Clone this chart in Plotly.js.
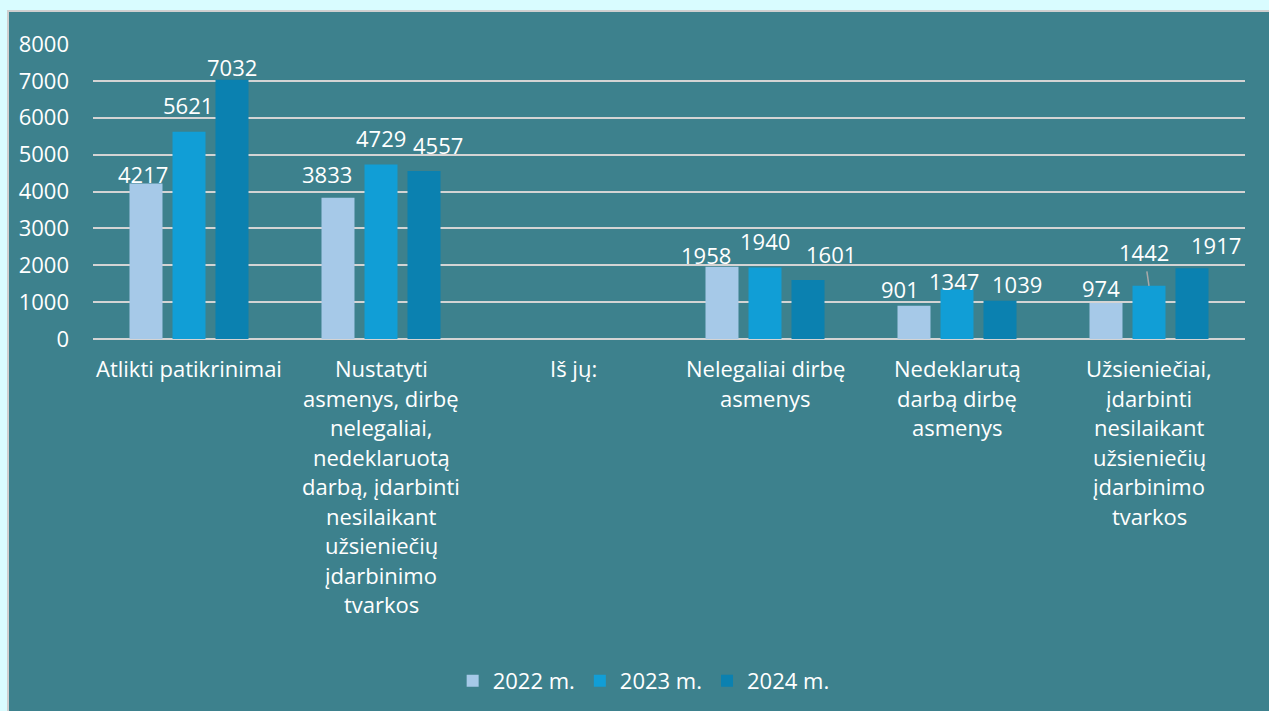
<!DOCTYPE html>
<html>
<head>
<meta charset="utf-8">
<script src="https://cdn.plot.ly/plotly-3.0.1.min.js"></script>
<style>
  html, body { margin: 0; padding: 0; background: #d9fcff; overflow: hidden; width: 1269px; height: 711px; }
  #frame { position: absolute; left: 7px; top: 10px; width: 1262px; height: 701px; border-left: 2px solid #cfcfcf; border-top: 2px solid #cfcfcf; box-sizing: border-box; background: #3d818d; }
  #chart { width: 1260px; height: 699px; }
</style>
</head>
<body>
<div id="frame"><div id="chart"></div></div>
<script>
// ---- data ----
const categories = [
  "Atlikti patikrinimai",
  "Nustatyti<br>asmenys, dirbę<br>nelegaliai,<br>nedeklaruotą<br>darbą, įdarbinti<br>nesilaikant<br>užsieniečių<br>įdarbinimo<br>tvarkos",
  "Iš jų:",
  "Nelegaliai dirbę<br>asmenys",
  "Nedeklarutą<br>darbą dirbę<br>asmenys",
  "Užsieniečiai,<br>įdarbinti<br>nesilaikant<br>užsieniečių<br>įdarbinimo<br>tvarkos"
];
const seriesNames = ["2022 m.", "2023 m.", "2024 m."];
const values2022 = [4217, 3833, null, 1958, 901, 974];
const values2023 = [5621, 4729, null, 1940, 1347, 1442];
const values2024 = [7032, 4557, null, 1601, 1039, 1917];
const yTicks = [0, 1000, 2000, 3000, 4000, 5000, 6000, 7000, 8000];

// ---- presentation (label nudges in px, not data) ----
const colors = ["#a6c9e8", "#119ed6", "#0b81b0"];
const labelDx = [
  [-3, -11, 0, -16, -14, -5],
  [-1, 0, 0, 0, -3, -5],
  [0, 14, 0, 23, 17, 24]
];
const labelDy = [
  [10, 24, 0, 12, 17, 15],
  [27, 27, 0, 26, 8, 34],
  [13, 26, 0, 26, 17, 23]
];
const leaderIndex = { series: 1, point: 5 };

const allSeries = [values2022, values2023, values2024];
const FONT = "'Open Sans', 'Noto Sans', sans-serif";
const FS = 22;
const slot = 43;

const traces = allSeries.map((vals, s) => ({
  type: "bar",
  name: seriesNames[s],
  x: categories,
  y: vals,
  marker: { color: colors[s], line: { width: 0 } },
  hoverinfo: "skip"
}));

const annotations = [];
// value labels
allSeries.forEach((vals, s) => {
  vals.forEach((v, i) => {
    if (v === null) return;
    const isLeader = (s === leaderIndex.series && i === leaderIndex.point);
    const base = {
      x: categories[i], y: v, xref: "x", yref: "y",
      text: String(v),
      font: { family: FONT, size: FS, color: "#ffffff" },
      xanchor: "center", yanchor: "middle"
    };
    if (isLeader) {
      Object.assign(base, {
        showarrow: true, arrowhead: 0, arrowwidth: 1.5, arrowcolor: "#a9a9a9",
        ax: labelDx[s][i], ay: -labelDy[s][i], standoff: 0,
        xshift: (s - 1) * slot, borderpad: 4
      });
    } else {
      Object.assign(base, {
        showarrow: false,
        xshift: (s - 1) * slot + labelDx[s][i],
        yshift: labelDy[s][i]
      });
    }
    annotations.push(base);
  });
});
// category labels, one line each
categories.forEach((c) => {
  c.split("<br>").forEach((line, j) => {
    annotations.push({
      x: c, y: 0, xref: "x", yref: "paper",
      text: line, showarrow: false,
      xanchor: "center", yanchor: "middle",
      yshift: -29 - j * 29.5,
      font: { family: FONT, size: FS, color: "#ffffff" }
    });
  });
});

const layout = {
  width: 1260, height: 699,
  margin: { l: 84, r: 24, t: 32, b: 371, pad: 0 },
  paper_bgcolor: "#3d818d",
  plot_bgcolor: "#3d818d",
  barmode: "group",
  bargap: 0.328,
  bargroupgap: 0.2326,
  font: { family: FONT, size: FS, color: "#ffffff" },
  xaxis: {
    type: "category",
    showticklabels: false,
    showgrid: false, zeroline: false, showline: false, ticks: ""
  },
  yaxis: {
    range: [0, 8000],
    tickvals: yTicks,
    ticktext: yTicks.map(String),
    showgrid: true, gridcolor: "#d4d4d4", gridwidth: 2,
    zeroline: true, zerolinecolor: "#d4d4d4", zerolinewidth: 2,
    showline: false, ticks: "",
    ticklabelstandoff: 23,
    tickfont: { family: FONT, size: FS, color: "#ffffff" }
  },
  showlegend: true,
  legend: {
    orientation: "h",
    x: 0.478, xanchor: "center",
    y: -1.152, yanchor: "middle",
    font: { family: FONT, size: FS, color: "#ffffff" },
    bgcolor: "rgba(0,0,0,0)",
    itemwidth: 30,
    traceorder: "normal"
  },
  annotations: annotations
};

Plotly.newPlot("chart", traces, layout, { displayModeBar: false, staticPlot: true });
</script>
</body>
</html>
